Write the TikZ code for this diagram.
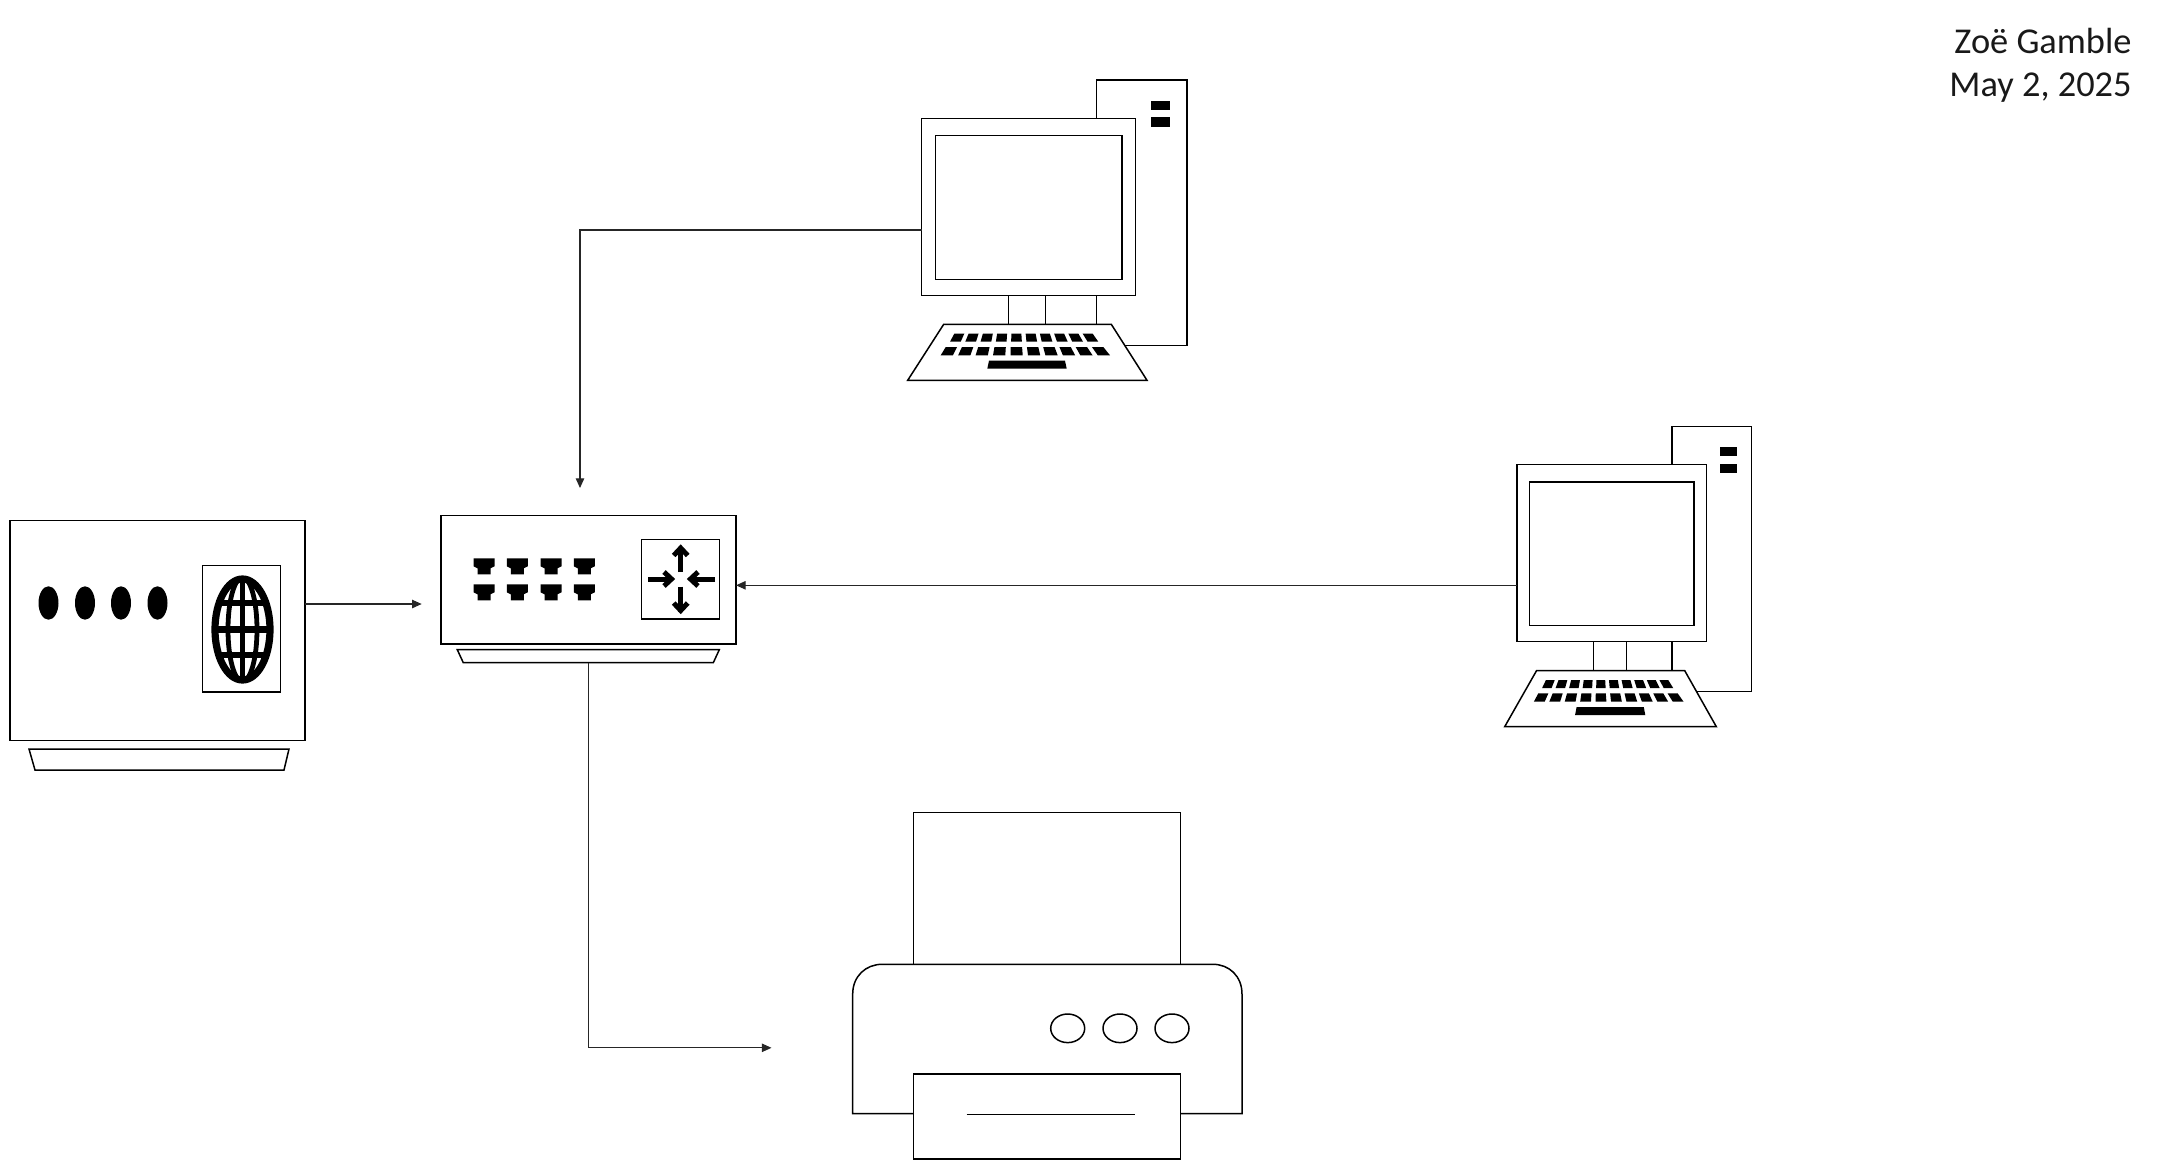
\documentclass[tikz,border=0pt]{standalone}
\usepackage{fontspec}
\setmainfont{Carlito}
\usetikzlibrary{arrows.meta}
\tikzset{
  devbox/.style={draw=black,fill=white,line width=.75pt,inner sep=0pt,outer sep=0pt},
  devline/.style={draw=black,fill=white,line width=.75pt,line join=miter},
  thinline/.style={draw=black,line width=.75pt},
  conn/.style={draw=black!85,line width=.55pt,-{Triangle[length=4.8pt,width=4.2pt]}},
  routerarrow/.style={draw=black,line width=2.5pt,line join=miter},
  globeouter/.style={draw=black,line width=3.6pt},
  globeline/.style={draw=black,line width=3.2pt},
  globemer/.style={draw=black,line width=2.4pt},
  stamp/.style={font=\fontsize{18.2pt}{22pt}\selectfont,anchor=base east,inner sep=0pt,text=black!90}
}
\newcommand\keyrow[6]{%
  \foreach \k in {0,...,9}{%
    \pgfmathsetmacro\ka{\k/9.7}\pgfmathsetmacro\kb{(\k+.7)/9.7}%
    \fill[black] ({#3+\ka*(#4-#3)},#1) -- ({#3+\kb*(#4-#3)},#1) -- ({#5+\kb*(#6-#5)},#2) -- ({#5+\ka*(#6-#5)},#2) -- cycle;
  }}
% #1 name, #2 x shift, #3 y shift, #4 x scale, #5 monitor width
\newcommand\pcdevice[5]{%
  \begin{scope}[shift={(#2,#3)},xscale=#4]
    \path[devline] (1096.7,80) rectangle (1187,345.3);
    \fill[black] (1151,100.7) rectangle (1170,109.7);
    \fill[black] (1151,117.3) rectangle (1170,126.7);
    \node[devbox,minimum width=#5,minimum height=88.5pt] (#1) at (1028.7,206.8) {};
    \path[devline] (935.7,135.7) rectangle (1122,279.3);
    \draw[thinline] (1008.3,295.3) -- (1008.3,324.3);
    \draw[thinline] (1045.7,295.3) -- (1045.7,324.3);
    \path[devline] (943.7,324.3) -- (1111.3,324.3) -- (1147,380.3) -- (907.7,380.3) -- cycle;
    \keyrow{333.7}{341.7}{954.3}{1092.7}{950}{1098.3}
    \keyrow{347}{355.3}{945.7}{1103.3}{940.7}{1110}
    \fill[black] (989,360.7) -- (1065,360.7) -- (1066.7,368.7) -- (987.3,368.7) -- cycle;
  \end{scope}}
\newcommand\jack[2]{%
  \fill[black,shift={(#1,#2)}] (-10.5,0) -- (10.5,0) -- (10.5,8) -- (6.5,10) -- (6.5,16) -- (-6.5,16) -- (-6.5,10) -- (-10.5,8) -- cycle;}
\begin{document}
\begin{tikzpicture}[x=.5pt,y=-.5pt]
\useasboundingbox (0,0) rectangle (2160,1169);
% gateway
\node[devbox,minimum width=147.7pt,minimum height=110pt] (gw) at (157.5,630.7) {};
\path[devline] (29,749) -- (289,749) -- (284,770) -- (35,770) -- cycle;
\foreach \ox in {48.5,85,121,157.5}
  \fill[black] (\ox,603) ellipse [x radius=10,y radius=16.7];
\node[devbox,minimum width=38.8pt,minimum height=63.2pt] (gwglobe) at (241.5,628.9) {};
\begin{scope}
  \clip (242.5,629.5) ellipse [x radius=30,y radius=53];
  \draw[globeline] (205,603) -- (280,603);
  \draw[globeline] (205,629.5) -- (280,629.5);
  \draw[globeline] (205,655) -- (280,655);
  \draw[globemer] (242.5,570) -- (242.5,690);
  \draw[globemer] (242.5,629.5) ellipse [x radius=14.5,y radius=52];
\end{scope}
\draw[globeouter] (242.5,629.5) ellipse [x radius=27.5,y radius=50.5];
% switch
\node[devbox,minimum width=147.5pt,minimum height=64.15pt] (sw) at (588.5,579.85) {};
\path[devline] (457.3,649.7) -- (719.3,649.7) -- (713.3,662.7) -- (463.3,662.7) -- cycle;
\coordinate (swbase) at (588.3,662.7);
\foreach \jx in {484,517.3,551,584.3}{\jack{\jx}{558.3}\jack{\jx}{584.3}}
\node[devbox,minimum width=38.8pt,minimum height=39.65pt] (router) at (680.5,579.35) {};
\draw[routerarrow] (680.7,572) -- (680.7,547);
\draw[routerarrow] (673.7,555.5) -- (680.7,548) -- (687.7,555.5);
\draw[routerarrow] (680.7,586.7) -- (680.7,611.5);
\draw[routerarrow] (673.7,603) -- (680.7,610.5) -- (687.7,603);
\draw[routerarrow] (648.3,579) -- (672,579);
\draw[routerarrow] (664,572) -- (671.5,579) -- (664,586);
\draw[routerarrow] (715,579) -- (690.5,579);
\draw[routerarrow] (698,572) -- (690.5,579) -- (698,586);
% computers
\pcdevice{pca}{0}{0}{1}{107pt}
\pcdevice{pcb}{701.8}{346.4}{.8845}{94.65pt}
% printer
\path[devline] (913.7,812.7) rectangle (1180.3,964.3);
\path[devline] (852.7,1113.7) -- (852.7,994) .. controls (852.7,976) and (866,964.3) .. (882,964.3) -- (1213,964.3) .. controls (1229,964.3) and (1242,976) .. (1242,994) -- (1242,1113.7) -- cycle;
\foreach \bx in {1067.7,1120,1172}
  \draw[thinline] (\bx,1028.3) ellipse [x radius=17,y radius=14.3];
\node[devbox,minimum width=133.3pt,minimum height=42.5pt] (printer) at (1047,1116.5) {};
\draw[thinline] (966.7,1114.7) -- (1135.3,1114.7);
% connector ends
\coordinate (swin) at (421.7,604);
\coordinate (swtop) at (580,488);
\coordinate (prin) at (771.5,1047.8);
\coordinate (pcaout) at (921.7,230);
\coordinate (pcbout) at (1517,585.3);
% connectors
\draw[conn] (gw.east |- swin) -- (swin);
\draw[conn] (pca.west |- pcaout) -| (swtop);
\draw[conn] (pcb.west |- pcbout) -- (sw.east |- pcbout);
\draw[conn] (swbase) |- (prin);
% stamp
\node[stamp] (author) at (2132,53.5) {Zoë Gamble};
\node[stamp] (date) at (2132,96.5) {May 2, 2025};
\end{tikzpicture}
\end{document}
